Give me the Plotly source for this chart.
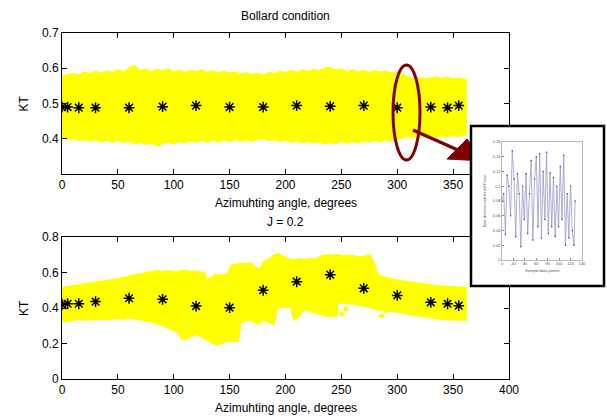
import plotly.graph_objects as go

W, H = 607, 418

# ---------------- data ----------------
ANGLES = [0, 5, 15, 30, 60, 90, 120, 150, 180, 210, 240, 270, 300, 330, 345, 355]
KT_BOLLARD = [0.490, 0.490, 0.488, 0.488, 0.488, 0.491, 0.494, 0.490, 0.490, 0.494,
              0.492, 0.494, 0.488, 0.490, 0.488, 0.494]
KT_J02 = [0.421, 0.424, 0.424, 0.436, 0.455, 0.449, 0.411, 0.402, 0.500, 0.548,
          0.588, 0.511, 0.471, 0.432, 0.424, 0.413]

# envelope of the scatter cloud, Bollard condition
TOP_X = [0, 5, 10, 15, 20, 25, 30, 35, 40, 45, 50, 55, 60, 65, 70, 75, 80, 85, 90, 95,
         100, 105, 110, 115, 120, 125, 130, 135, 140, 145, 150, 155, 160, 165, 170, 175,
         180, 185, 190, 195, 200, 205, 210, 215, 220, 225, 230, 235, 240, 245, 250, 255,
         260, 265, 270, 275, 280, 285, 290, 295, 300, 305, 310, 315, 320, 325, 330, 335,
         340, 345, 350, 355, 360, 362]
TOP_UPPER = [0.578, 0.583, 0.586, 0.581, 0.590, 0.585, 0.592, 0.586, 0.593, 0.589,
             0.596, 0.590, 0.601, 0.608, 0.594, 0.598, 0.591, 0.597, 0.593, 0.599,
             0.590, 0.595, 0.588, 0.594, 0.591, 0.596, 0.589, 0.593, 0.587, 0.592,
             0.586, 0.590, 0.584, 0.588, 0.582, 0.586, 0.581, 0.589, 0.585, 0.592,
             0.588, 0.594, 0.589, 0.596, 0.590, 0.597, 0.593, 0.600, 0.603, 0.595,
             0.598, 0.591, 0.596, 0.590, 0.594, 0.588, 0.593, 0.589, 0.592, 0.586,
             0.590, 0.582, 0.574, 0.571, 0.574, 0.570, 0.573, 0.576, 0.571, 0.575,
             0.570, 0.573, 0.569, 0.568]
TOP_LOWER = [0.404, 0.398, 0.401, 0.395, 0.399, 0.393, 0.397, 0.391, 0.396, 0.390,
             0.395, 0.389, 0.393, 0.386, 0.390, 0.384, 0.388, 0.379, 0.386, 0.390,
             0.385, 0.392, 0.388, 0.394, 0.389, 0.395, 0.390, 0.396, 0.391, 0.397,
             0.392, 0.398, 0.393, 0.397, 0.392, 0.398, 0.401, 0.395, 0.398, 0.392,
             0.396, 0.390, 0.394, 0.388, 0.393, 0.387, 0.391, 0.385, 0.389, 0.386,
             0.392, 0.387, 0.393, 0.388, 0.394, 0.390, 0.396, 0.391, 0.397, 0.393,
             0.399, 0.403, 0.407, 0.403, 0.408, 0.404, 0.409, 0.405, 0.408, 0.404,
             0.409, 0.406, 0.410, 0.411]

# envelope of the scatter cloud, J = 0.2
BOT_UP_X = [0, 5, 10, 15, 20, 25, 30, 35, 40, 45, 50, 55, 60, 65, 70, 75, 80, 85, 90, 95,
            100, 105, 110, 115, 120, 125, 128, 130, 133, 138, 143, 148, 151, 155, 160, 165,
            170, 174, 177, 181, 185, 189, 193, 197, 202, 207, 212, 217, 222, 227, 232, 237,
            242, 247, 252, 257, 262, 267, 272, 276, 279, 282, 285, 290, 297, 305, 312, 320,
            327, 335, 345, 355, 362]
BOT_UPPER = [0.517, 0.522, 0.527, 0.529, 0.536, 0.540, 0.546, 0.549, 0.553, 0.558,
             0.566, 0.574, 0.580, 0.588, 0.594, 0.600, 0.606, 0.612, 0.606, 0.611,
             0.604, 0.610, 0.614, 0.606, 0.609, 0.603, 0.598, 0.558, 0.575, 0.590,
             0.586, 0.592, 0.640, 0.648, 0.653, 0.650, 0.654, 0.628, 0.620, 0.668,
             0.675, 0.695, 0.708, 0.696, 0.680, 0.672, 0.678, 0.674, 0.679, 0.677,
             0.695, 0.701, 0.697, 0.702, 0.695, 0.699, 0.692, 0.687, 0.694, 0.700,
             0.662, 0.605, 0.580, 0.574, 0.561, 0.553, 0.546, 0.538, 0.532, 0.527,
             0.522, 0.520, 0.517]
BOT_LO_X = [0, 5, 10, 15, 20, 25, 30, 35, 40, 45, 50, 55, 60, 65, 70, 75, 80, 85, 90, 95,
            100, 104, 107, 111, 115, 120, 125, 130, 135, 139, 143, 147, 151, 155, 158, 160,
            165, 169, 175, 181, 187, 190, 193, 199, 205, 207, 211, 216, 222, 228, 233, 238,
            243, 246, 247, 252, 257, 262, 267, 272, 277, 282, 290, 297, 305, 312, 320, 327,
            335, 345, 355, 362]
BOT_LOWER = [0.323, 0.326, 0.330, 0.333, 0.331, 0.334, 0.332, 0.336, 0.334, 0.338,
             0.340, 0.336, 0.342, 0.338, 0.333, 0.328, 0.320, 0.312, 0.300, 0.285,
             0.270, 0.260, 0.225, 0.222, 0.238, 0.250, 0.235, 0.215, 0.200, 0.190,
             0.198, 0.212, 0.210, 0.212, 0.212, 0.315, 0.328, 0.332, 0.305, 0.330,
             0.314, 0.303, 0.398, 0.405, 0.400, 0.335, 0.342, 0.385, 0.380, 0.370,
             0.360, 0.352, 0.352, 0.352, 0.426, 0.428, 0.422, 0.418, 0.416, 0.410,
             0.400, 0.390, 0.385, 0.379, 0.370, 0.361, 0.352, 0.346, 0.340, 0.333,
             0.330, 0.330]
STRAY_X = [250, 254, 286, 290]
STRAY_Y = [0.368, 0.394, 0.355, 0.385]

# inset: force signal vs sample points
INSET_X = [0, 3, 6, 9, 12, 15, 18, 21, 24, 27, 30, 33, 36, 39, 42, 45, 48, 51, 54, 57,
           60, 63, 66, 69, 72, 75, 78, 81, 84, 87, 90, 93, 96, 99, 102, 105, 108, 111,
           114, 117, 120, 123, 126, 128]
INSET_Y = [0.080, 0.090, 0.035, 0.115, 0.100, 0.060, 0.148, 0.110, 0.032, 0.117,
           0.090, 0.018, 0.100, 0.055, 0.117, 0.036, 0.090, 0.135, 0.027, 0.110,
           0.140, 0.045, 0.144, 0.030, 0.120, 0.055, 0.146, 0.036, 0.118, 0.045,
           0.112, 0.032, 0.100, 0.045, 0.127, 0.055, 0.142, 0.020, 0.090, 0.030,
           0.100, 0.040, 0.020, 0.080]

TOP_XTICKS = [0, 50, 100, 150, 200, 250, 300, 350]   # 400 is hidden behind the inset
BOT_XTICKS = [0, 50, 100, 150, 200, 250, 300, 350, 400]
TOP_YTICKS = [0.4, 0.5, 0.6, 0.7]
BOT_YTICKS = [0, 0.2, 0.4, 0.6, 0.8]
INSET_XTICKS = [0, 20, 40, 60, 80, 100, 120, 140]
INSET_YTICKS = [0, 0.02, 0.04, 0.06, 0.08, 0.1, 0.12, 0.14, 0.16]

YELLOW = "#FFFF00"
DARKRED = "#800000"
FONT = "Liberation Sans, Arial, sans-serif"


def px(x):
    return x / W


def py(y):
    return 1 - y / H


fig = go.Figure()

# bands
fig.add_trace(go.Scatter(x=TOP_X + TOP_X[::-1], y=TOP_UPPER + TOP_LOWER[::-1],
                         fill="toself", fillcolor=YELLOW, mode="lines",
                         line=dict(color=YELLOW, width=1), xaxis="x", yaxis="y",
                         showlegend=False, hoverinfo="skip"))
fig.add_trace(go.Scatter(x=BOT_UP_X + BOT_LO_X[::-1], y=BOT_UPPER + BOT_LOWER[::-1],
                         fill="toself", fillcolor=YELLOW, mode="lines",
                         line=dict(color=YELLOW, width=1), xaxis="x2", yaxis="y2",
                         showlegend=False, hoverinfo="skip"))
fig.add_trace(go.Scatter(x=STRAY_X, y=STRAY_Y, mode="markers",
                         marker=dict(color=YELLOW, size=5, symbol="circle"),
                         xaxis="x2", yaxis="y2", showlegend=False))

# asterisk markers
for xa, ya, vals in (("x", "y", KT_BOLLARD), ("x2", "y2", KT_J02)):
    fig.add_trace(go.Scatter(x=ANGLES, y=vals, mode="markers",
                             marker=dict(symbol="asterisk-open", size=9, color="black",
                                         line=dict(color="black", width=1.5)),
                             xaxis=xa, yaxis=ya, showlegend=False))
    fig.add_trace(go.Scatter(x=ANGLES, y=vals, mode="markers",
                             marker=dict(symbol="circle", size=4, color="black"),
                             xaxis=xa, yaxis=ya, showlegend=False))

# overlay subplot (pixel space) for the callout
fig.add_trace(go.Scatter(x=[None], y=[None], xaxis="x3", yaxis="y3",
                         showlegend=False, hoverinfo="skip"))

# inset signal
fig.add_trace(go.Scatter(x=INSET_X, y=INSET_Y, mode="lines+markers",
                         line=dict(color="#9a9ac8", width=0.8),
                         marker=dict(color="#3a3aa0", size=1.5),
                         xaxis="x4", yaxis="y4", showlegend=False))

axis_common = dict(showline=True, linecolor="black", linewidth=1, mirror="ticks",
                   ticks="inside", ticklen=5, tickcolor="black", showgrid=False,
                   zeroline=False, automargin=False,
                   tickfont=dict(family=FONT, size=12, color="black"))
inset_axis = dict(showline=True, linecolor="#888", linewidth=0.6, mirror=True,
                  ticks="inside", ticklen=2, tickcolor="#888", showgrid=False,
                  zeroline=False, automargin=False,
                  tickfont=dict(family="Liberation Sans", size=4, color="#555"))

XDOM = [px(62), px(509)]
fig.update_layout(
    width=W, height=H, margin=dict(l=0, r=0, t=0, b=0, autoexpand=False),
    paper_bgcolor="white", plot_bgcolor="rgba(0,0,0,0)",
    xaxis=dict(domain=XDOM, range=[0, 400], tickvals=TOP_XTICKS, anchor="y", **axis_common),
    yaxis=dict(domain=[py(174), py(33)], range=[0.3, 0.7], tickvals=TOP_YTICKS,
               anchor="x", **axis_common),
    xaxis2=dict(domain=XDOM, range=[0, 400], tickvals=BOT_XTICKS, anchor="y2", **axis_common),
    yaxis2=dict(domain=[py(379), py(237)], range=[0, 0.8], tickvals=BOT_YTICKS,
                anchor="x2", **axis_common),
    xaxis3=dict(domain=[0, 1], range=[0, W], visible=False, anchor="y3", automargin=False),
    yaxis3=dict(domain=[0, 1], range=[H, 0], visible=False, anchor="x3", automargin=False),
    xaxis4=dict(domain=[px(502), px(582)], range=[0, 140], tickvals=INSET_XTICKS,
                anchor="y4", **inset_axis),
    yaxis4=dict(domain=[py(260), py(142)], range=[0, 0.16], tickvals=INSET_YTICKS,
                anchor="x4", **inset_axis),
)

# callout shapes drawn in the overlay subplot (above the top plot traces)
fig.add_shape(type="circle", xref="x3", yref="y3", x0=393, x1=420, y0=65, y1=160,
              line=dict(color=DARKRED, width=3), layer="below")
fig.add_shape(type="line", xref="x3", yref="y3", x0=413, y0=130, x1=460, y1=151,
              line=dict(color=DARKRED, width=3.5), layer="below")
fig.add_shape(type="path", xref="x3", yref="y3",
              path="M 447,159 L 467,139 L 484,161 Z",
              fillcolor=DARKRED, line=dict(color=DARKRED, width=1), layer="below")
fig.add_shape(type="rect", xref="x3", yref="y3", x0=471, x1=604, y0=126, y1=286,
              fillcolor="white", line=dict(color="black", width=2.5), layer="below")


# titles and axis labels
def label(text, x, y, angle=0, size=12, color="black"):
    fig.add_annotation(text=text, xref="paper", yref="paper", x=px(x), y=py(y),
                       showarrow=False, textangle=angle, xanchor="center", yanchor="middle",
                       font=dict(family=FONT, size=size, color=color))


label("Bollard condition", 285.5, 16)
label("J = 0.2", 285.5, 222)
label("Azimuhting angle, degrees", 285.5, 203)
label("Azimuhting angle, degrees", 285.5, 408)
label("KT", 24, 103.5, -90)
label("KT", 24, 308, -90)
label("Sample/data points", 542, 270, size=4, color="#555")
label("Non-dimensional thrust Force", 484, 201, angle=-90, size=4, color="#555")

fig.write_html("out.html", config={"displayModeBar": False, "staticPlot": True},
               post_script="document.body.style.margin='0';document.body.style.overflow='hidden';")
